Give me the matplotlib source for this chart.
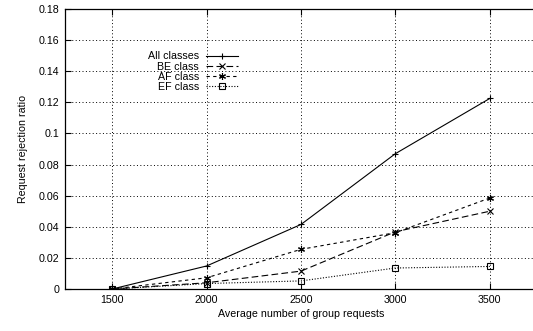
import matplotlib
matplotlib.use("Agg")
import matplotlib.pyplot as plt

plt.rcParams['font.family'] = ['Liberation Sans', 'DejaVu Sans']

requests = [1500, 2000, 2500, 3000, 3500]
all_classes = [0.0, 0.0148, 0.0415, 0.087, 0.1225]
be_class = [0.0, 0.004, 0.0115, 0.0368, 0.0500]
af_class = [0.0, 0.0072, 0.0255, 0.0362, 0.0585]
ef_class = [0.0, 0.0035, 0.0052, 0.0135, 0.0145]

fig = plt.figure(figsize=(5.33, 3.31), dpi=100)
ax = fig.add_axes([65 / 533, 42 / 331, 472 / 533, 280 / 331])

lw = 0.8
ax.plot(requests, all_classes, color='black', lw=lw, ls='-', marker='+', ms=5, mew=0.8, label='All classes')
ax.plot(requests, be_class, color='black', lw=lw, ls=(0, (6, 3)), marker='x', ms=4, mew=0.8, label='BE class')
ax.plot(requests, af_class, color='black', lw=lw, ls=(0, (3, 3)), marker=(6, 2, 0), ms=5, mew=0.8, label='AF class')
ax.plot(requests, ef_class, color='black', lw=lw, ls=(0, (1, 1.5)), marker='s', ms=4, mew=0.8, mfc='none', label='EF class')

ax.set_xlim(1250, 3750)
ax.set_ylim(0, 0.18)
ax.set_xticks(requests)
ax.set_yticks([0, 0.02, 0.04, 0.06, 0.08, 0.1, 0.12, 0.14, 0.16, 0.18])
ax.set_yticklabels(['0', '0.02', '0.04', '0.06', '0.08', '0.1', '0.12', '0.14', '0.16', '0.18'])
ax.grid(True, color='black', ls=(0, (1, 2.5)), lw=0.7)
ax.tick_params(direction='in', labelsize=7.7, length=4, width=0.8, pad=4, top=True)
ax.spines['right'].set_visible(False)
for s in ['left', 'bottom', 'top']:
    ax.spines[s].set_linewidth(0.9)

ax.set_xlabel('Average number of group requests', fontsize=7.7, labelpad=3)
ax.set_ylabel('Request rejection ratio', fontsize=7.7, labelpad=8)

leg = ax.legend(loc='upper right', bbox_to_anchor=(243 / 533, 1 - 46 / 331), bbox_transform=fig.transFigure,
                frameon=False, fontsize=7.7, markerfirst=False, handlelength=3.0,
                labelspacing=0.02, handletextpad=0.6, borderpad=0)
# right-align the rows so the labels line up on their right edge
for col in leg._legend_box.get_children()[1].get_children():
    col.align = 'right'

fig.savefig('out.png', dpi=100)
